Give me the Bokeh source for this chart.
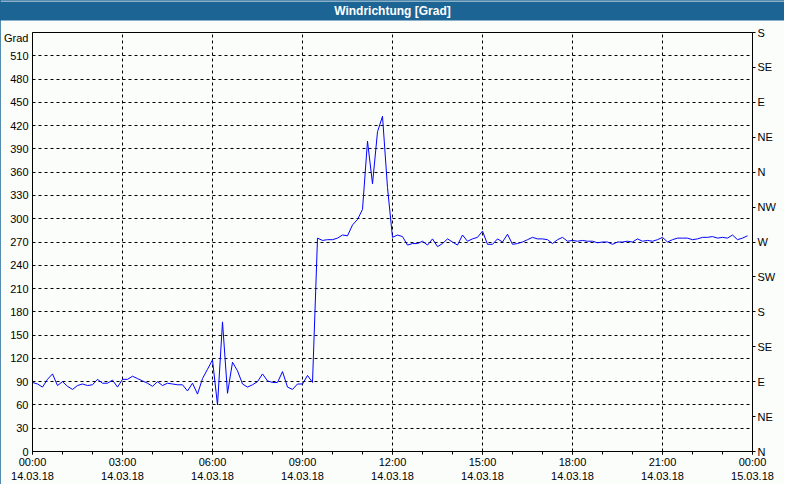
import numpy as np
from bokeh.plotting import figure
from bokeh.models import FixedTicker, LinearAxis, Range1d, Title
from bokeh.embed import file_html
from bokeh.resources import INLINE

# --- data: wind direction, 10-minute samples, 14.03.18 00:00 .. 23:50 ---
hours = np.arange(144) / 6.0
direction = [
    89, 87, 83, 93, 100, 85, 90, 84, 80, 85,
    87, 85, 86, 93, 88, 88, 92, 83, 93, 93,
    97, 94, 91, 88, 84, 90, 85, 88, 87, 86,
    86, 78, 88, 74, 94, 106, 118, 60, 167, 75,
    115, 104, 87, 83, 86, 90, 100, 91, 89, 89,
    103, 83, 80, 87, 87, 98, 89, 275, 272, 273,
    273, 275, 279, 278, 292, 299, 312, 400, 345, 412,
    432, 340, 276, 279, 277, 266, 268, 268, 271, 266,
    274, 264, 268, 274, 270, 266, 279, 271, 274, 276,
    284, 267, 267, 274, 270, 280, 267, 268, 270, 273,
    276, 274, 274, 273, 268, 273, 276, 271, 272, 271,
    272, 271, 271, 269, 270, 270, 267, 270, 270, 271,
    270, 274, 271, 272, 271, 273, 276, 270, 273, 275,
    275, 275, 273, 274, 276, 276, 277, 275, 276, 275,
    279, 273, 275, 278,
]

title_text = "Windrichtung [Grad]"
y_ticks = [0, 30, 60, 90, 120, 150, 180, 210, 240, 270, 300, 330, 360, 390, 420, 450, 480, 510]
unit_label = "Grad"
unit_label_pos = 533
compass_ticks = [0, 45, 90, 135, 180, 225, 270, 315, 360, 405, 450, 495, 540]
compass_labels = ["N", "NE", "E", "SE", "S", "SW", "W", "NW", "N", "NE", "E", "SE", "S"]
x_major = [0, 3, 6, 9, 12, 15, 18, 21, 24]
x_minor = list(range(25))
time_labels = ["00:00", "03:00", "06:00", "09:00", "12:00", "15:00", "18:00", "21:00", "00:00"]
date_labels = ["14.03.18"] * 8 + ["15.03.18"]

BG = "#FBFDFB"
BLUE = "#1C6494"
FONT = "Liberation Sans"
FS = "11px"

p = figure(width=784, height=484, x_range=Range1d(0, 24), y_range=Range1d(0, 540),
           output_backend="svg", toolbar_location=None,
           min_border_left=32, min_border_right=32, min_border_top=32, min_border_bottom=28,
           background_fill_color=BG, border_fill_color=BG,
           outline_line_color="black", outline_line_width=1)

# spacer between the title bar and the plot frame (closest to the frame)
spacer = Title(text=" ", text_font_size="1px", standoff=7, text_color=BG)
p.add_layout(spacer, "above")

# blue title bar
bar = Title(text=title_text, align="center", vertical_align="top", standoff=0,
            text_color="white", text_font=FONT, text_font_size="12px",
            text_font_style="bold", background_fill_color=BLUE,
            padding=dict(top=2, bottom=3, left=420, right=420))
p.add_layout(bar, "above")

# left axis
yax = p.yaxis[0]
yax.ticker = FixedTicker(ticks=y_ticks + [unit_label_pos])
yax.major_label_overrides = {unit_label_pos: unit_label}
yax.major_tick_out = 0
yax.major_tick_in = 0
yax.minor_tick_out = 0
yax.minor_tick_in = 0
yax.major_label_standoff = 4
yax.axis_line_color = "black"
yax.major_label_text_font = FONT
yax.major_label_text_font_size = FS
yax.major_label_text_color = "black"

# bottom axis
xax = p.xaxis[0]
xax.ticker = FixedTicker(ticks=x_major, minor_ticks=x_minor)
xax.major_label_overrides = {h: f"{t}\n{d}" for h, t, d in zip(x_major, time_labels, date_labels)}
xax.major_tick_out = 3
xax.major_tick_in = 0
xax.minor_tick_out = 3
xax.minor_tick_in = 0
xax.major_label_standoff = 1
xax.axis_line_color = "black"
xax.major_tick_line_color = "black"
xax.minor_tick_line_color = "black"
xax.major_label_text_font = FONT
xax.major_label_text_font_size = FS
xax.major_label_text_color = "black"

# grid
p.ygrid.ticker = FixedTicker(ticks=y_ticks)
for g in (p.xgrid, p.ygrid):
    g.grid_line_color = "black"
    g.grid_line_dash = "3 3"
    g.grid_line_width = 1

# right compass axis
rax = LinearAxis(ticker=FixedTicker(ticks=compass_ticks),
                 major_label_overrides=dict(zip(compass_ticks, compass_labels)))
rax.major_tick_out = 3
rax.major_tick_in = 0
rax.minor_tick_out = 0
rax.minor_tick_in = 0
rax.major_label_standoff = 2
rax.axis_line_color = "black"
rax.major_label_text_font = FONT
rax.major_label_text_font_size = FS
rax.major_label_text_color = "black"
p.add_layout(rax, "right")

p.line(hours, direction, line_color="#0000FF", line_width=1)

p.styles = {"outline": f"2px solid {BLUE}", "outline-offset": "-2px"}

open("out.html", "w").write(file_html(p, INLINE))
